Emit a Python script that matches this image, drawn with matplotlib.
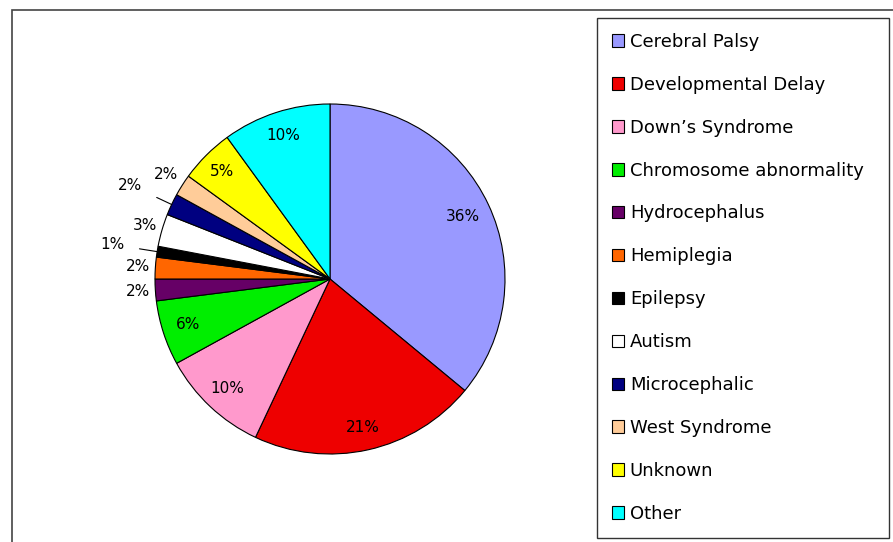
import matplotlib.pyplot as plt
import matplotlib.patches as mpatches
import numpy as np

# data
labels = ['Cerebral Palsy', 'Developmental Delay', 'Down\u2019s Syndrome', 'Chromosome abnormality',
          'Hydrocephalus', 'Hemiplegia', 'Epilepsy', 'Autism', 'Microcephalic',
          'West Syndrome', 'Unknown', 'Other']
values = [36, 21, 10, 6, 2, 2, 1, 3, 2, 2, 5, 10]
colors = ['#9999FF', '#EE0000', '#FF99CC', '#00EE00', '#660066', '#FF6600',
          '#000000', '#FFFFFF', '#000080', '#FFCC99', '#FFFF00', '#00FFFF']

# label placement (distance from centre, in radii) and leader lines
label_dist = [0.84, 0.87, 0.86, 0.85, 1.10, 1.10, 1.26, 1.10, 1.26, 1.11, 0.87, 0.86]
leader = [False, False, False, False, False, False, True, False, True, False, False, False]

fig = plt.figure(figsize=(8.93, 5.42), dpi=100)
fig.patches.append(mpatches.Rectangle((12 / 893, -0.05), 1.0, 1 - 10 / 542 + 0.05,
                                      transform=fig.transFigure, fill=False,
                                      edgecolor='#444444', lw=1.2))

ax = fig.add_axes([102.5 / 893, 35.5 / 542, 455 / 893, 455 / 542])
wedges, _ = ax.pie(values, colors=colors, startangle=90, counterclock=False,
                   wedgeprops=dict(edgecolor='black', linewidth=0.8))
ax.set_xlim(-1.3, 1.3)
ax.set_ylim(-1.3, 1.3)
ax.set_aspect('equal')
ax.axis('off')

for w, v, d, ld in zip(wedges, values, label_dist, leader):
    ang = np.deg2rad((w.theta1 + w.theta2) / 2)
    x, y = np.cos(ang), np.sin(ang)
    txt = '%d%%' % v
    if ld:
        ax.annotate(txt, xy=(x * 1.0, y * 1.0), xytext=(x * d, y * d),
                    ha='center', va='center', fontsize=11,
                    arrowprops=dict(arrowstyle='-', color='black', lw=0.8,
                                    shrinkA=9, shrinkB=0))
    else:
        ax.text(x * d, y * d, txt, ha='center', va='center', fontsize=11)

leg = fig.legend(wedges, labels, loc='upper left',
                 bbox_to_anchor=(597 / 893, 1 - 535 / 542, 292 / 893, 517 / 542),
                 mode='expand', fontsize=13, frameon=True, fancybox=False,
                 edgecolor='black', handlelength=0.7, handleheight=0.7,
                 handletextpad=0.3, labelspacing=1.38, borderpad=0.82,
                 borderaxespad=0)
leg.get_frame().set_linewidth(1.0)

plt.savefig('out.png', dpi=100)
